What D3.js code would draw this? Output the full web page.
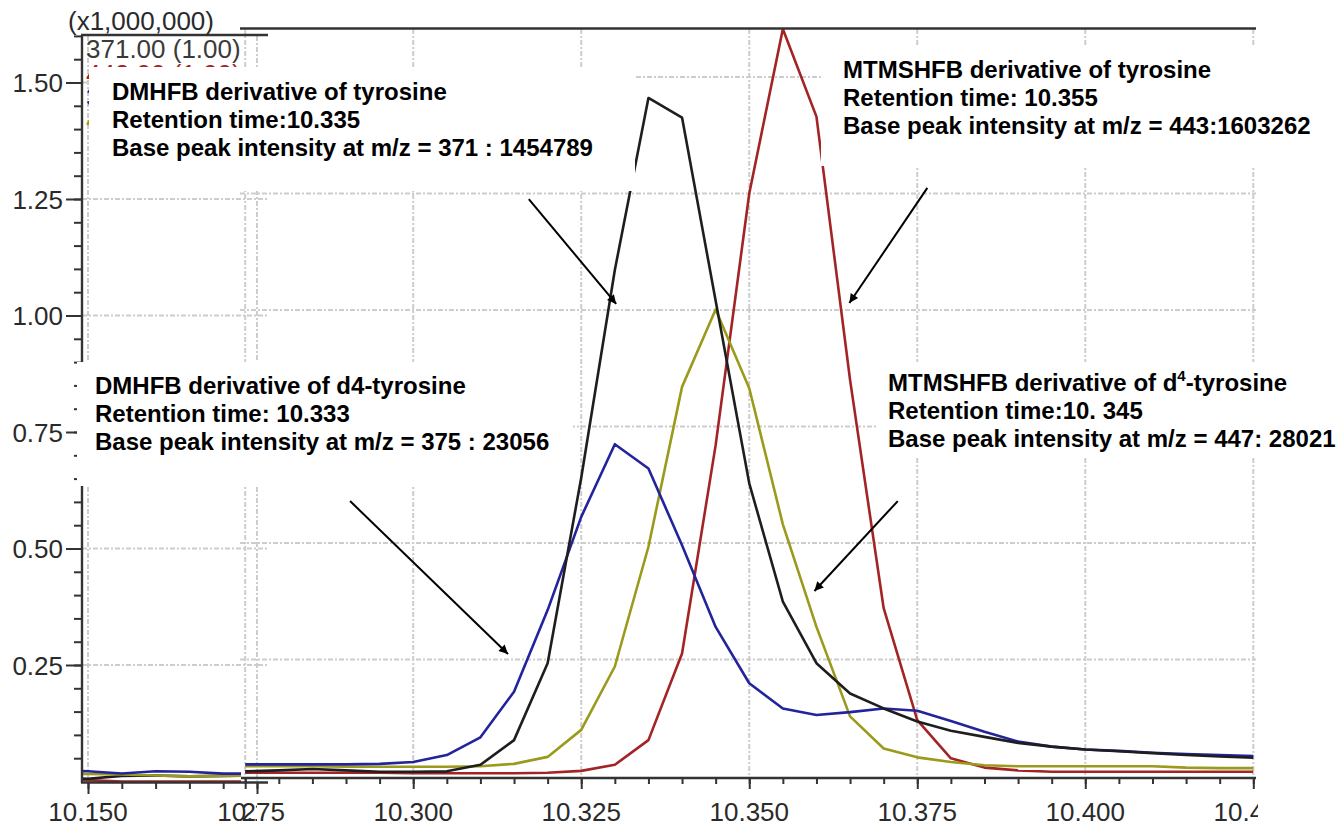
<!DOCTYPE html>
<html><head><meta charset="utf-8">
<script src="https://cdn.jsdelivr.net/npm/d3@7"></script>
<style>
body{margin:0;background:#fff}
svg{display:block}
text{font-family:"Liberation Sans",Arial,sans-serif}
</style>
</head><body>
<svg id="c" width="1336" height="824"></svg>
<script>
// ---------- DATA ----------
const mainTimes = [10.275,10.280,10.285,10.290,10.295,10.300,10.305,10.310,10.315,10.320,
  10.325,10.330,10.335,10.340,10.345,10.350,10.355,10.360,10.365,10.370,
  10.375,10.380,10.385,10.390,10.395,10.400,10.405,10.410,10.415,10.420,10.425];
const ion371 = [0.010,0.012,0.015,0.012,0.009,0.009,0.010,0.024,0.077,0.242,
  0.640,1.086,1.455,1.413,1.020,0.628,0.374,0.242,0.177,0.145,
  0.117,0.097,0.084,0.071,0.063,0.057,0.053,0.049,0.045,0.042,0.039];
const ion375 = [0.025,0.025,0.025,0.025,0.026,0.030,0.045,0.083,0.181,0.356,
  0.556,0.712,0.660,0.495,0.320,0.199,0.145,0.131,0.137,0.145,
  0.140,0.118,0.095,0.074,0.063,0.057,0.054,0.050,0.047,0.045,0.043];
const ion447 = [0.021,0.021,0.021,0.020,0.020,0.020,0.020,0.021,0.026,0.041,
  0.099,0.235,0.492,0.835,1.001,0.832,0.540,0.320,0.128,0.059,
  0.040,0.030,0.023,0.021,0.021,0.021,0.021,0.021,0.018,0.017,0.017];
const ion443 = [0.007,0.007,0.007,0.007,0.007,0.006,0.006,0.006,0.006,0.007,
  0.011,0.024,0.077,0.263,0.710,1.250,1.603,1.415,0.850,0.360,
  0.120,0.038,0.018,0.012,0.009,0.009,0.009,0.009,0.009,0.009,0.009];

// left (pasted) panel
const leftTimes = [10.145,10.150,10.155,10.160,10.165,10.170,10.175,10.180];
const left371 = [0.007,0.006,0.012,0.013,0.011,0.012,0.013,0.013];
const left375 = [0.024,0.022,0.017,0.022,0.021,0.017,0.017,0.017];
const left447 = [0.016,0.016,0.015,0.013,0.011,0.012,0.013,0.013];
const left443 = [0.004,0.003,0.000,0.000,0.000,0.000,0.000,0.000];

const yTickValues = [0.25,0.50,0.75,1.00,1.25,1.50];
const yTickLabels = ["0.25","0.50","0.75","1.00","1.25","1.50"];
const mainXTickValues = [10.275,10.300,10.325,10.350,10.375,10.400,10.425];
const mainXTickLabels = ["10.275","10.300","10.325","10.350","10.375","10.400","10.425"];
const leftXTickValues = [10.150,10.175];
const leftXTickLabels = ["10.150","10.175"];

const legendLabels = ["371.00 (1.00)","443.00 (1.00)","375.00 (1.00)","447.00 (1.00)"];
const scaleLabel = "(x1,000,000)";

// annotations: [time, value] anchors in main-panel data space
const arrows = [
  {from:[10.3172,1.238], to:[10.3302,1.013]},
  {from:[10.3765,1.262], to:[10.3649,1.015]},
  {from:[10.2906,0.590], to:[10.3141,0.262]},
  {from:[10.3721,0.590], to:[10.3597,0.397]}
];
const notes = [
  ["DMHFB derivative of tyrosine","Retention time:10.335","Base peak intensity at m/z = 371 : 1454789"],
  ["MTMSHFB derivative of tyrosine","Retention time: 10.355","Base peak intensity at m/z = 443:1603262"],
  ["DMHFB derivative of d4-tyrosine","Retention time: 10.333","Base peak intensity at m/z = 375 : 23056"],
  ["MTMSHFB derivative of d|4|-tyrosine","Retention time:10. 345","Base peak intensity at m/z = 447: 28021"]
];

// ---------- LAYOUT / STYLE ----------
const COL = {c371:"#1e1e1e", c375:"#23239c", c443:"#a32424", c447:"#9a9a1c", grid:"#cdcdcd", axis:"#333"};
const svg = d3.select("#c");

const xMain = d3.scaleLinear().domain([10.275,10.425]).range([245.2,1253.3]);
const yMain = d3.scaleLinear().domain([0,1.6]).range([776,30.4]);
const xLeft = d3.scaleLinear().domain([10.150,10.175]).range([88,257]);
const yLeft = d3.scaleLinear().domain([0,1.6]).range([781.5,35.9]);

const defs = svg.append("defs");
defs.append("clipPath").attr("id","clipL").append("rect").attr("x",82).attr("y",30).attr("width",159).attr("height",752);
defs.append("clipPath").attr("id","clipM").append("rect").attr("x",241).attr("y",28).attr("width",1015).attr("height",750);
defs.append("clipPath").attr("id","clipLabL").append("rect").attr("x",0).attr("y",780).attr("width",257).attr("height",44);
defs.append("clipPath").attr("id","clipLabM").append("rect").attr("x",241).attr("y",780).attr("width",1017).attr("height",44);
defs.append("marker").attr("id","ah").attr("viewBox","0 0 10 10").attr("refX",10).attr("refY",5)
  .attr("markerWidth",11).attr("markerHeight",9).attr("markerUnits","userSpaceOnUse")
  .attr("orient","auto").append("path").attr("d","M0,0L10,5L0,10Z").attr("fill","#000");

// ---------- GRIDLINES ----------
const gridStyle = s => s.attr("stroke",COL.grid).attr("stroke-width",2).attr("stroke-dasharray","5,2,2,2");
// left panel
const gL = svg.append("g");
gL.selectAll("line.h").data(yTickValues).join("line")
  .attr("x1",82).attr("x2",268).attr("y1",d=>yLeft(d)).attr("y2",d=>yLeft(d)).call(gridStyle);
gL.selectAll("line.v").data(leftXTickValues).join("line")
  .attr("x1",d=>xLeft(d)).attr("x2",d=>xLeft(d)).attr("y1",36).attr("y2",781).call(gridStyle);
// main panel
const gM = svg.append("g");
gM.selectAll("line.h").data(yTickValues).join("line")
  .attr("x1",240).attr("x2",1256).attr("y1",d=>yMain(d)).attr("y2",d=>yMain(d)).call(gridStyle);
gM.selectAll("line.v").data(mainXTickValues).join("line")
  .attr("x1",d=>xMain(d)).attr("x2",d=>xMain(d)).attr("y1",29).attr("y2",777).call(gridStyle);

// ---------- CURVES ----------
function drawSeries(g, times, vals, xs, ys, color){
  const line = d3.line().x((d,i)=>xs(times[i])).y(d=>ys(d));
  g.append("path").datum(vals).attr("d",line).attr("fill","none")
   .attr("stroke",color).attr("stroke-width",2.6).attr("stroke-linejoin","round");
}
const cL = svg.append("g").attr("clip-path","url(#clipL)");
drawSeries(cL, leftTimes, left443, xLeft, yLeft, COL.c443);
drawSeries(cL, leftTimes, left371, xLeft, yLeft, COL.c371);
drawSeries(cL, leftTimes, left447, xLeft, yLeft, COL.c447);
drawSeries(cL, leftTimes, left375, xLeft, yLeft, COL.c375);

const cM = svg.append("g").attr("clip-path","url(#clipM)");
drawSeries(cM, mainTimes, ion443, xMain, yMain, COL.c443);
drawSeries(cM, mainTimes, ion447, xMain, yMain, COL.c447);
drawSeries(cM, mainTimes, ion375, xMain, yMain, COL.c375);
drawSeries(cM, mainTimes, ion371, xMain, yMain, COL.c371);

// ---------- AXES ----------
const fontAxis = 26;
// left y-axis
const yAxisMinor = d3.axisLeft(yLeft).tickValues(d3.range(0.05,1.601,0.05)).tickSize(8).tickFormat("").tickSizeOuter(0);
svg.append("g").attr("transform","translate(82,0)").call(yAxisMinor)
  .call(g=>g.select(".domain").remove())
  .call(g=>g.selectAll(".tick line").attr("stroke",COL.axis).attr("stroke-width",2));
const yAxisMajor = d3.axisLeft(yLeft).tickValues(yTickValues).tickSize(16).tickPadding(3)
  .tickFormat((d,i)=>yTickLabels[i]).tickSizeOuter(0);
svg.append("g").attr("transform","translate(82,0)").call(yAxisMajor)
  .call(g=>g.select(".domain").remove())
  .call(g=>g.selectAll(".tick line").attr("stroke",COL.axis).attr("stroke-width",2))
  .call(g=>g.selectAll(".tick text").attr("font-size",fontAxis).attr("fill","#2a2a2a")
        .attr("font-family","Liberation Sans, Arial, sans-serif").attr("dy","0.36em"));
svg.append("line").attr("x1",82).attr("x2",82).attr("y1",35).attr("y2",783).attr("stroke",COL.axis).attr("stroke-width",2.4);
svg.append("line").attr("x1",81).attr("x2",268).attr("y1",35).attr("y2",35).attr("stroke",COL.axis).attr("stroke-width",2.4);

// left x-axis
const xLeftMinor = d3.axisBottom(xLeft).tickValues(d3.range(10.150,10.1781,0.005)).tickSize(7).tickFormat("").tickSizeOuter(0);
svg.append("g").attr("transform","translate(0,782)").call(xLeftMinor)
  .call(g=>g.select(".domain").remove())
  .call(g=>g.selectAll(".tick line").attr("stroke",COL.axis).attr("stroke-width",2));
const xLeftMajor = d3.axisBottom(xLeft).tickValues(leftXTickValues).tickSize(12).tickFormat("").tickSizeOuter(0);
svg.append("g").attr("transform","translate(0,782)").call(xLeftMajor)
  .call(g=>g.select(".domain").remove())
  .call(g=>g.selectAll(".tick line").attr("stroke",COL.axis).attr("stroke-width",2));
svg.append("line").attr("x1",81).attr("x2",268).attr("y1",782.5).attr("y2",782.5).attr("stroke",COL.axis).attr("stroke-width",2.6);
svg.append("g").attr("clip-path","url(#clipLabL)").selectAll("text").data(leftXTickValues).join("text")
  .attr("x",d=>xLeft(d)).attr("y",821).attr("text-anchor","middle").attr("font-size",fontAxis)
  .attr("fill","#2a2a2a").text((d,i)=>leftXTickLabels[i]);

// main x-axis
const xMainMinor = d3.axisBottom(xMain).tickValues(d3.range(10.275,10.4251,0.005)).tickSize(6).tickFormat("").tickSizeOuter(0);
svg.append("g").attr("transform","translate(0,778)").call(xMainMinor)
  .call(g=>g.select(".domain").remove())
  .call(g=>g.selectAll(".tick line").attr("stroke",COL.axis).attr("stroke-width",2));
const xMainMajor = d3.axisBottom(xMain).tickValues(mainXTickValues).tickSize(11).tickFormat("").tickSizeOuter(0);
svg.append("g").attr("transform","translate(0,778)").call(xMainMajor)
  .call(g=>g.select(".domain").remove())
  .call(g=>g.selectAll(".tick line").attr("stroke",COL.axis).attr("stroke-width",2));
svg.append("line").attr("x1",241).attr("x2",1256).attr("y1",778).attr("y2",778).attr("stroke",COL.axis).attr("stroke-width",2.4);
svg.append("line").attr("x1",240).attr("x2",1256).attr("y1",28.5).attr("y2",28.5).attr("stroke",COL.axis).attr("stroke-width",2.4);
svg.append("g").attr("clip-path","url(#clipLabM)").selectAll("text").data(mainXTickValues).join("text")
  .attr("x",d=>xMain(d)).attr("y",821).attr("text-anchor","middle").attr("font-size",fontAxis)
  .attr("fill","#2a2a2a").text((d,i)=>mainXTickLabels[i]);

// ---------- LEGEND (mostly hidden) ----------
const legendColors = [COL.c371, COL.c443, COL.c375, COL.c447];
svg.selectAll("text.leg").data(legendLabels).join("text").attr("class","leg")
  .attr("x",86).attr("y",(d,i)=>[58,83,106,129][i]).attr("font-size",fontAxis)
  .attr("fill",(d,i)=>i===0?"#3a3a3a":legendColors[i]).text(d=>d);
svg.append("text").attr("x",68).attr("y",30).attr("font-size",fontAxis).attr("fill","#2a2a2a").text(scaleLabel);

// ---------- ANNOTATION BOXES ----------
const boxes = [
  {x:89, y:67, w:546, h:124},
  {x:821, y:45, w:515, h:121},
  {x:77, y:362, w:496, h:124},
  {x:878, y:362, w:458, h:96}
];
svg.selectAll("rect.box").data(boxes).join("rect").attr("class","box")
  .attr("x",d=>d.x).attr("y",d=>d.y).attr("width",d=>d.w).attr("height",d=>d.h).attr("fill","#fff");

const notePos = [{x:112,y:100},{x:843,y:78},{x:95,y:394},{x:888,y:391}];
notes.forEach((lines,k)=>{
  const t = svg.append("text").attr("font-size",24).attr("font-weight","bold").attr("fill","#000");
  lines.forEach((ln,i)=>{
    const y = notePos[k].y + i*28;
    if(ln.includes("|")){
      const parts = ln.split("|");
      const tl = t.append("tspan").attr("x",notePos[k].x).attr("y",y);
      tl.append("tspan").text(parts[0]);
      tl.append("tspan").attr("font-size",15).attr("dy",-10).text(parts[1]);
      tl.append("tspan").attr("dy",10).text(parts[2]);
    } else {
      t.append("tspan").attr("x",notePos[k].x).attr("y",y).text(ln);
    }
  });
});

// ---------- ARROWS ----------
svg.selectAll("line.arr").data(arrows).join("line").attr("class","arr")
  .attr("x1",d=>xMain(d.from[0])).attr("y1",d=>yMain(d.from[1]))
  .attr("x2",d=>xMain(d.to[0])).attr("y2",d=>yMain(d.to[1]))
  .attr("stroke","#000").attr("stroke-width",2).attr("marker-end","url(#ah)");
</script>
</body></html>
